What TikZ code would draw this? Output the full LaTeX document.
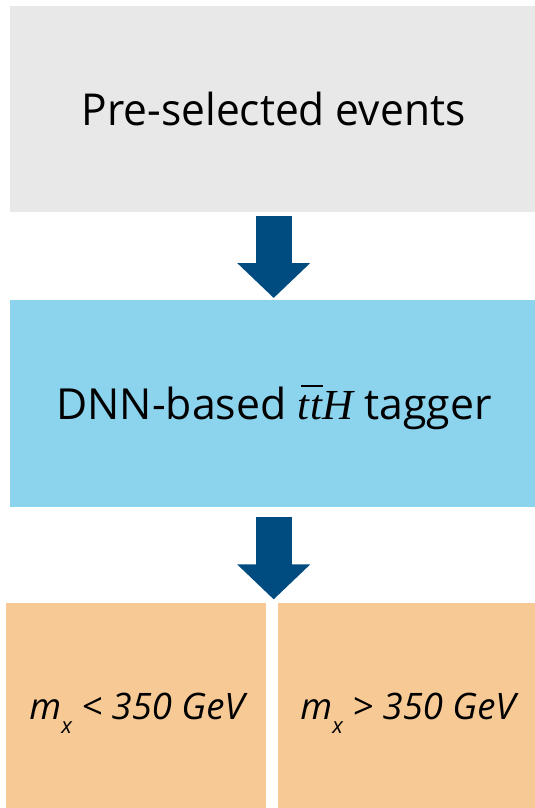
\documentclass[tikz,border=0pt]{standalone}
\usepackage{fontspec}
\setmainfont{Open Sans}
\newfontfamily\narrowsans[FakeStretch=0.965]{Open Sans}
\newfontfamily\mathserif{Liberation Serif}
\usetikzlibrary{arrows.meta,calc}
\definecolor{boxgray}{HTML}{E8E8E8}
\definecolor{boxblue}{HTML}{8CD3EE}
\definecolor{boxorange}{HTML}{F7C995}
\definecolor{arrowblue}{HTML}{004B80}
\tikzset{
  panel/.style={fill=#1, draw=none, inner sep=0pt, anchor=north west},
  bigarrow/.style={draw=arrowblue, line width=36pt, line cap=butt,
    -{Triangle[width=71pt,length=35pt,fill=arrowblue]}},
  label/.style={inner sep=0pt, text=black}
}
\begin{document}
\begin{tikzpicture}[x=1pt,y=-1pt]
\useasboundingbox (0,0) rectangle (535,808);
% boxes
\node[panel=boxgray, minimum width=525pt, minimum height=206pt] (pre) at (10,6) {};
\node[panel=boxblue, minimum width=525pt, minimum height=207pt] (tag) at (10,300) {};
\node[panel=boxorange, minimum width=260pt, minimum height=206pt] (low) at (6,603) {};
\node[panel=boxorange, minimum width=257pt, minimum height=206pt] (high) at (278,603) {};
% texts
\node[label, anchor=base] (pretext) at (273.5,125)
  {\fontsize{44}{48}\narrowsans Pre-selected events};
\node[label, anchor=base] (tagtext) at (274,419)
  {\fontsize{42.8}{46}\selectfont DNN-based {\mathserif\itshape\rlap{\hspace{0.08em}\rule[0.74em]{0.5em}{0.05em}}t\kern0.02em tH} tagger};
\node[label, anchor=base] (lowtext) at (137,719.5)
  {\fontsize{36.5}{40}\selectfont\itshape m\raisebox{-14pt}{\fontsize{22}{24}\selectfont x} {<} 350 GeV};
\node[label, anchor=base] (hightext) at (408,719.5)
  {\fontsize{36.5}{40}\selectfont\itshape m\raisebox{-14pt}{\fontsize{22}{24}\selectfont x} {>} 350 GeV};
% arrows
\coordinate (a1s) at ($(pre.south)+(1pt,-4pt)$);
\coordinate (a1e) at ($(tag.north)+(1pt,2pt)$);
\coordinate (a2s) at ($(tag.south)+(1pt,-10pt)$);
\coordinate (a2e) at ($(tag.south)+(1pt,-92pt)$);
\draw[bigarrow] (a1s) -- (a1e);
\draw[bigarrow] (a2s) -- (a2e);
\end{tikzpicture}
\end{document}
